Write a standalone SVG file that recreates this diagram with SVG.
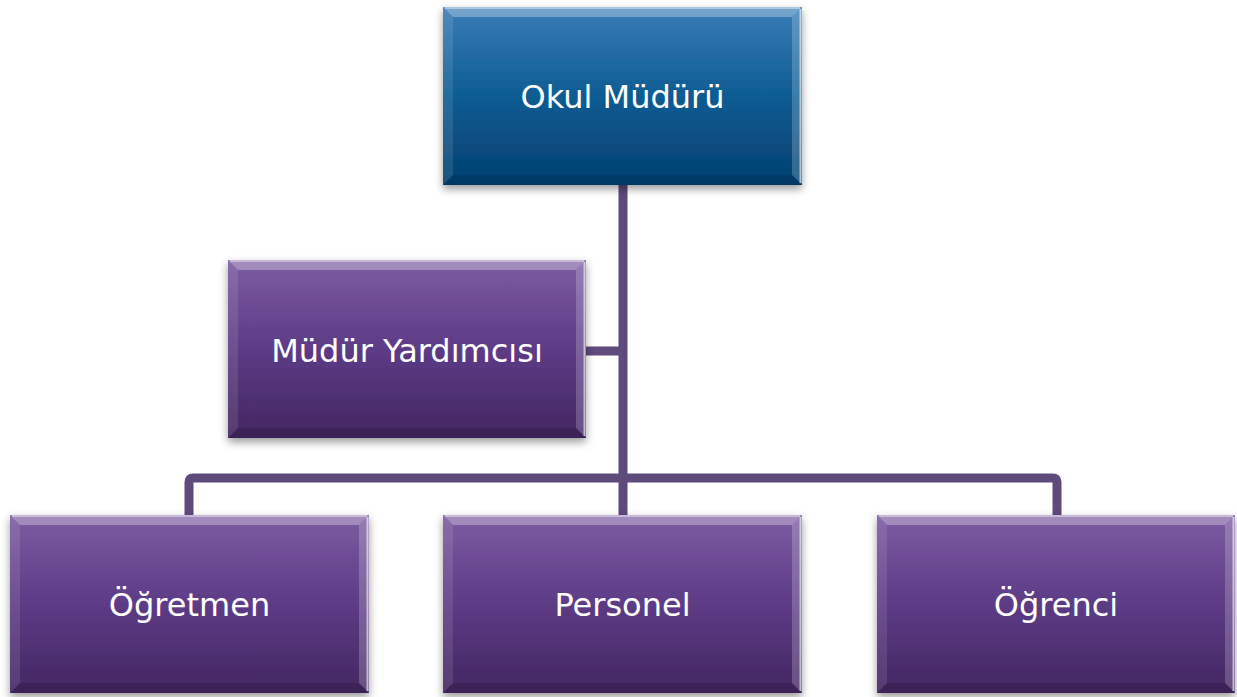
<svg xmlns="http://www.w3.org/2000/svg" width="1237" height="697" viewBox="0 0 1237 697">
<defs>
<linearGradient id="gBlue" x1="0" y1="0" x2="0" y2="1">
<stop offset="0" stop-color="#3A7DB7"/>
<stop offset="0.5" stop-color="#0E5C93"/>
<stop offset="1" stop-color="#034070"/>
</linearGradient>
<linearGradient id="gPurple" x1="0" y1="0" x2="0" y2="1">
<stop offset="0" stop-color="#7C5CA2"/>
<stop offset="0.5" stop-color="#5D3B86"/>
<stop offset="1" stop-color="#432661"/>
</linearGradient>
<filter id="sh" x="-10%" y="-10%" width="120%" height="125%">
<feDropShadow dx="0" dy="4" stdDeviation="4" flood-color="#000" flood-opacity="0.4"/>
</filter>
<symbol id="bevel" viewBox="0 0 358 178" preserveAspectRatio="none">
<polygon points="0,0 358,0 348,10 10,10" fill="#fff" fill-opacity="0.3"/>
<polygon points="0,0 10,10 10,168 0,178" fill="#fff" fill-opacity="0.1"/>
<polygon points="358,0 358,178 348,168 348,10" fill="#fff" fill-opacity="0.2"/>
<polygon points="0,178 10,168 348,168 358,178" fill="#000" fill-opacity="0.1"/>
<line x1="356.5" y1="2" x2="356.5" y2="176" stroke="#fff" stroke-opacity="0.6" stroke-width="2"/>
<line x1="2" y1="1" x2="356" y2="1" stroke="#fff" stroke-opacity="0.4" stroke-width="2"/>
</symbol>
</defs>
<style>
.lbl{font-family:"DejaVu Sans","Liberation Sans",sans-serif;font-size:32px;fill:#fff;text-anchor:middle}
.conn{fill:none;stroke:#5F4A7C;stroke-width:9;stroke-linejoin:round}
</style>
<rect width="1237" height="697" fill="#fff"/>
<g id="connectors">
<path class="conn" d="M623,185 V515"/>
<path class="conn" d="M585,351 H623"/>
<path class="conn" d="M189,515 V482 Q189,478 193,478 H1053 Q1057,478 1057,482 V515"/>
</g>
<g id="okul-muduru">
<rect x="443" y="7" width="359" height="178" fill="url(#gBlue)" filter="url(#sh)"/>
<use href="#bevel" x="443" y="7" width="359" height="178"/>
<text class="lbl" x="622.5" y="108">Okul Müdürü</text>
</g>
<g id="mudur-yardimcisi">
<rect x="228" y="260" width="358" height="178" fill="url(#gPurple)" filter="url(#sh)"/>
<use href="#bevel" x="228" y="260" width="358" height="178"/>
<text class="lbl" x="407" y="362">Müdür Yardımcısı</text>
</g>
<g id="ogretmen">
<rect x="10" y="515" width="359" height="178" fill="url(#gPurple)" filter="url(#sh)"/>
<use href="#bevel" x="10" y="515" width="359" height="178"/>
<text class="lbl" x="189.5" y="616">Öğretmen</text>
</g>
<g id="personel">
<rect x="443" y="515" width="359" height="178" fill="url(#gPurple)" filter="url(#sh)"/>
<use href="#bevel" x="443" y="515" width="359" height="178"/>
<text class="lbl" x="622.5" y="616">Personel</text>
</g>
<g id="ogrenci">
<rect x="877" y="515" width="358" height="178" fill="url(#gPurple)" filter="url(#sh)"/>
<use href="#bevel" x="877" y="515" width="358" height="178"/>
<text class="lbl" x="1056" y="616">Öğrenci</text>
</g>
</svg>
